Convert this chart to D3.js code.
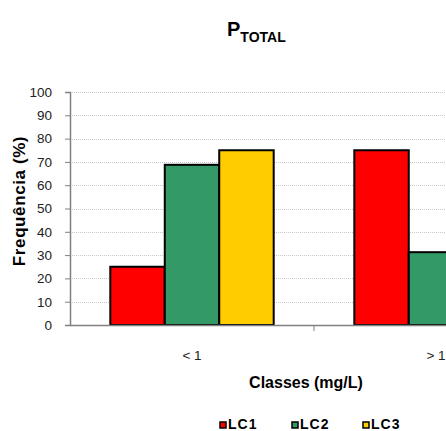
<!DOCTYPE html>
<html><head><meta charset="utf-8">
<script src="https://cdn.jsdelivr.net/npm/d3@7"></script>
<style>body{margin:0;background:#fff}svg{display:block}</style>
</head><body>
<svg id="c" width="446" height="431"></svg>
<script>
const categories = ["< 1", "> 1"];
const seriesNames = ["LC1", "LC2", "LC3"];
const LC1 = [25, 75];
const LC2 = [68.75, 31.25];
const LC3 = [75, 25];
const yTicks = [0,10,20,30,40,50,60,70,80,90,100];
const colors = ["#ff0000", "#339966", "#ffcc00"];
const seriesValues = [LC1, LC2, LC3];

(function(){
const svg = d3.select("#c");
const left = 70, bandW = 244, plotTop = 92, plotBottom = 325;
const x = d3.scaleBand().domain(categories).range([left, left + bandW*2]).paddingInner(0).paddingOuter(0);
const xs = d3.scaleBand().domain(seriesNames).range([0, x.bandwidth()]).paddingInner(0).paddingOuter(0.74);
const y = d3.scaleLinear().domain([0,100]).range([plotBottom, plotTop]);
const sans = "Arial, 'Liberation Sans', sans-serif";

svg.append("g").selectAll("line").data(yTicks.filter(d=>d>0)).join("line")
  .attr("x1", left).attr("x2", left + bandW*2)
  .attr("y1", d=>Math.round(y(d))+0.5).attr("y2", d=>Math.round(y(d))+0.5)
  .attr("stroke", "#c8c8c8").attr("stroke-dasharray", "1,1");

const gb = svg.append("g");
categories.forEach((c, ci) => {
  seriesNames.forEach((s, si) => {
    const v = seriesValues[si][ci];
    gb.append("rect")
      .attr("x", x(c) + xs(s)).attr("y", y(v))
      .attr("width", xs.bandwidth()).attr("height", y(0) - y(v))
      .attr("fill", colors[si]).attr("stroke", "#000").attr("stroke-width", 2);
  });
});

const ya = svg.append("g").attr("transform", `translate(${left},0)`)
  .call(d3.axisLeft(y).tickValues(yTicks).tickSize(5).tickPadding(13));
ya.select(".domain").attr("stroke", "#808080").attr("stroke-width", 1.5);
ya.selectAll(".tick line").attr("stroke", "#808080");
ya.selectAll("text").attr("font-family", sans).attr("font-size", 13.5).attr("fill", "#222");

const xa = svg.append("g").attr("transform", `translate(0,${plotBottom})`)
  .call(d3.axisBottom(x).tickSize(0).tickPadding(25));
xa.select(".domain").attr("stroke", "#808080").attr("stroke-width", 1.5);
xa.selectAll("text").attr("font-family", sans).attr("font-size", 13.5).attr("fill", "#222");
svg.append("g").selectAll("line").data([left + bandW, left + bandW*2]).join("line")
  .attr("x1", d=>d).attr("x2", d=>d).attr("y1", plotBottom).attr("y2", plotBottom + 6)
  .attr("stroke", "#808080");

const t = svg.append("text").attr("x", 227).attr("y", 36)
  .attr("font-family", sans).attr("font-weight", "bold").attr("fill", "#000");
t.append("tspan").attr("font-size", 20).text("P");
t.append("tspan").attr("font-size", 14).attr("dy", 6).text("TOTAL");

svg.append("text").attr("transform", "translate(25,201) rotate(-90)")
  .attr("text-anchor", "middle").attr("font-family", sans)
  .attr("font-weight", "bold").attr("font-size", 17).attr("letter-spacing", 0.6).text("Frequência (%)");

svg.append("text").attr("x", 306).attr("y", 388).attr("text-anchor", "middle")
  .attr("font-family", sans).attr("font-weight", "bold").attr("font-size", 16).text("Classes (mg/L)");

const lx = [220, 292, 363];
const lg = svg.append("g");
seriesNames.forEach((s, i) => {
  lg.append("rect").attr("x", lx[i]).attr("y", 422).attr("width", 6).attr("height", 6)
    .attr("fill", colors[i]).attr("stroke", "#000").attr("stroke-width", 1.5);
  lg.append("text").attr("x", lx[i] + 8).attr("y", 429)
    .attr("font-family", sans).attr("font-weight", "bold")
    .attr("font-size", 14).attr("letter-spacing", 1).text(s);
});
})();
</script>
</body></html>
